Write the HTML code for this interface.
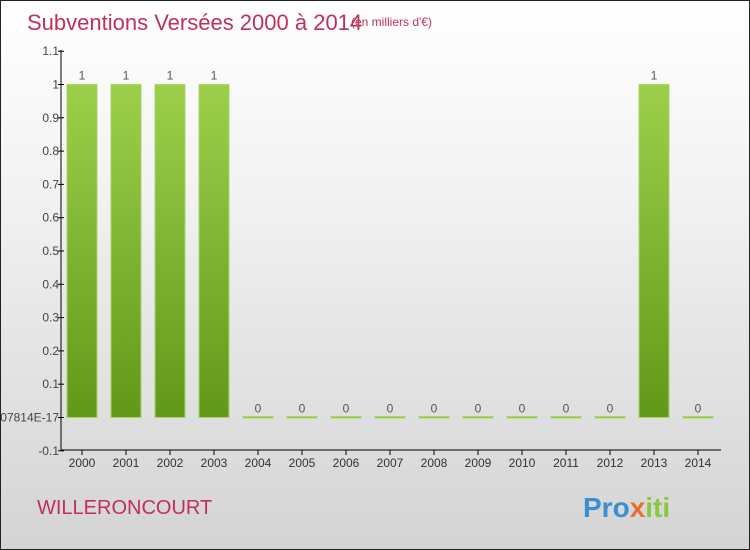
<!DOCTYPE html>
<html><head><meta charset="utf-8"><style>
body{margin:0}
#c{width:748px;height:548px;border:1px solid #222;background:linear-gradient(#fff,#f4f4f4 30%,#d4d4d4);position:relative;overflow:hidden;font-family:"Liberation Sans",sans-serif}
</style></head><body>
<div id="c">
<svg width="748" height="548">
<defs><linearGradient id="g" x1="0" y1="0" x2="0" y2="1"><stop offset="0" stop-color="#9ccf4b"/><stop offset="1" stop-color="#62981a"/></linearGradient></defs>
<text x="26" y="29" font-size="22" fill="#c0305a">Subventions Versées 2000 à 2014</text>
<text x="350" y="25" font-size="12" fill="#c0305a">(en milliers d'€)</text>
<text x="36" y="513" font-size="20" fill="#c0305a">WILLERONCOURT</text>
<text x="582" y="516" font-size="28" font-weight="bold" fill="#3a8fd0">Pro<tspan fill="#e8702a">x</tspan><tspan fill="#8cc63f">iti</tspan></text>
<g id="plot"></g>
</svg></div>
<script>
const years=["2000","2001","2002","2003","2004","2005","2006","2007","2008","2009","2010","2011","2012","2013","2014"];
const values=[1,1,1,1,0,0,0,0,0,0,0,0,0,1,0];
const ticks=[1.1,1,0.9,0.8,0.7,0.6,0.5,0.4,0.3,0.2,0.1,0,-0.1];
const tickLabels=["1.1","1","0.9","0.8","0.7","0.6","0.5","0.4","0.3","0.2","0.1","1.3877787807814E-17","-0.1"];
const ns="http://www.w3.org/2000/svg";
const g=document.getElementById('plot');
const y=v=>416.5-v*333;
const x=i=>81+i*44;
function mk(t,a,txt){const e=document.createElementNS(ns,t);for(const k in a)e.setAttribute(k,a[k]);if(txt!==undefined)e.textContent=txt;g.appendChild(e);return e;}
let e=mk('line',{x1:60,y1:49,x2:60,y2:449,stroke:'#000'});

e=mk('line',{x1:60,y1:449,x2:720,y2:449,stroke:'#000'});

ticks.forEach((t,i)=>{const yy=y(t);
 let l=mk('line',{x1:57,y1:yy,x2:63,y2:yy,stroke:'#000'});
 
 let s=mk('text',{x:58,y:yy+4,'font-size':12,fill:'#444','text-anchor':'end'},tickLabels[i]);
 });
years.forEach((yr,i)=>{const cx=x(i),v=values[i];
 let l=mk('line',{x1:cx,y1:449,x2:cx,y2:454,stroke:'#000'});
 
 let s=mk('text',{x:cx,y:466,'font-size':12,fill:'#333','text-anchor':'middle'},yr);
 
 const top=y(v),h=Math.max(y(0)-top,1.5);
 let r=mk('rect',{x:cx-15,y:v>0?top:y(0)-1,width:30,height:h,fill:'url(#g)',stroke:'#a8d866','stroke-width':1});
 
 let vl=mk('text',{x:cx,y:(v>0?top:y(0))-5,'font-size':12,fill:'#555','text-anchor':'middle'},String(v));
 });
</script>
</body></html>
